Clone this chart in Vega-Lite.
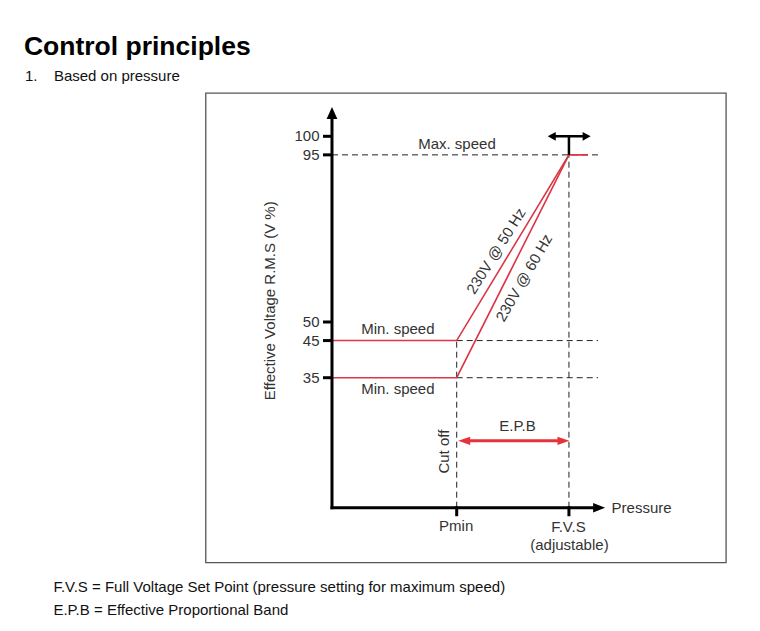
{
  "$schema": "https://vega.github.io/schema/vega-lite/v6.json",
  "width": 760,
  "height": 631,
  "autosize": {"type": "fit", "contains": "padding"},
  "padding": 0,
  "background": "white",
  "config": {"view": {"stroke": null}, "text": {"font": "Liberation Sans"}},
  "datasets": {
    "frame": [{"x": -50.6, "x2": 158.0, "y": -14.8, "y2": 111.6}],
    "guides": [
      {"x": 0, "y": 95, "x2": 106.7, "y2": 95},
      {"x": 50, "y": 45, "x2": 106.7, "y2": 45},
      {"x": 50, "y": 35, "x2": 106.7, "y2": 35},
      {"x": 50, "y": 0, "x2": 50, "y2": 45},
      {"x": 95, "y": 0, "x2": 95, "y2": 95}
    ],
    "curves": [
      {"series": "50 Hz", "step": 1, "x": 0, "y": 45},
      {"series": "50 Hz", "step": 2, "x": 50, "y": 45},
      {"series": "50 Hz", "step": 3, "x": 95, "y": 95},
      {"series": "50 Hz", "step": 4, "x": 102.6, "y": 95},
      {"series": "60 Hz", "step": 1, "x": 0, "y": 35},
      {"series": "60 Hz", "step": 2, "x": 50, "y": 35},
      {"series": "60 Hz", "step": 3, "x": 95, "y": 95}
    ],
    "axes": [
      {"x": 0, "y": -0.4, "x2": 0, "y2": 105.5},
      {"x": -0.6, "y": 0, "x2": 105, "y2": 0}
    ],
    "ticks": [
      {"x": -3.6, "y": 100, "x2": 0, "y2": 100},
      {"x": -3.6, "y": 95, "x2": 0, "y2": 95},
      {"x": -3.6, "y": 50, "x2": 0, "y2": 50},
      {"x": -3.6, "y": 45, "x2": 0, "y2": 45},
      {"x": -3.6, "y": 35, "x2": 0, "y2": 35},
      {"x": 50, "y": 0.4, "x2": 50, "y2": -2.3},
      {"x": 95, "y": 0.4, "x2": 95, "y2": -2.3}
    ],
    "fvsMarker": [
      {"x": 95, "y": 95, "x2": 95, "y2": 100},
      {"x": 88.0, "y": 100, "x2": 102.3, "y2": 100}
    ],
    "epb": [{"x": 53.0, "y": 18, "x2": 92.8, "y2": 18}],
    "upHeads": [{"x": 0, "y": 106.3}],
    "rightHeads": [{"x": 107.1, "y": 0}],
    "smallRight": [{"x": 102.1, "y": 100}],
    "smallLeft": [{"x": 88.1, "y": 100}],
    "redRight": [{"x": 92.8, "y": 18}],
    "redLeft": [{"x": 53.0, "y": 18}],
    "centerLabels": [
      {"x": 50.1, "y": 96.5, "label": "Max. speed"},
      {"x": 26.4, "y": 46.7, "label": "Min. speed"},
      {"x": 26.4, "y": 30.5, "label": "Min. speed"},
      {"x": 74.4, "y": 20.7, "label": "E.P.B"},
      {"x": 49.8, "y": -6.4, "label": "Pmin"},
      {"x": 94.8, "y": -6.6, "label": "F.V.S"},
      {"x": 95.2, "y": -11.4, "label": "(adjustable)"}
    ],
    "tickLabels": [
      {"x": -5, "y": 100, "label": "100"},
      {"x": -5, "y": 95, "label": "95"},
      {"x": -5, "y": 50, "label": "50"},
      {"x": -5, "y": 45, "label": "45"},
      {"x": -5, "y": 35, "label": "35"}
    ],
    "leftLabels": [
      {"x": 112.1, "y": -1.5, "label": "Pressure"}
    ],
    "pageText": [
      {"x": -123.1, "y": 114.9, "label": "1."},
      {"x": -111.5, "y": 114.9, "label": "Based on pressure"},
      {"x": -111.7, "y": -22.7, "label": "F.V.S = Full Voltage Set Point (pressure setting for maximum speed)"},
      {"x": -111.7, "y": -29.0, "label": "E.P.B = Effective Proportional Band"}
    ],
    "titleText": [{"x": -123.5, "y": 121.9, "label": "Control principles"}],
    "verticalLabels": [
      {"x": -22.9, "y": 55.7, "label": "Effective Voltage R.M.S (V %)"},
      {"x": 46.9, "y": 15.1, "label": "Cut off"}
    ],
    "label50": [{"x": 65.8, "y": 69.1, "label": "230V @ 50 Hz"}],
    "label60": [{"x": 77.0, "y": 61.9, "label": "230V @ 60 Hz"}]
  },
  "layer": [
    {
      "data": {"name": "frame"},
      "mark": {"type": "rect", "fill": null, "fillOpacity": 0, "stroke": "#555555", "strokeWidth": 1.3},
      "encoding": {
        "x": {"field": "x", "type": "quantitative", "scale": {"domain": [-133.1, 171.6], "nice": false, "zero": false}, "axis": null},
        "x2": {"field": "x2"},
        "y": {"field": "y", "type": "quantitative", "scale": {"domain": [-33.2, 136.7], "nice": false, "zero": false}, "axis": null},
        "y2": {"field": "y2"}
      }
    },
    {
      "data": {"name": "guides"},
      "mark": {"type": "rule", "color": "#222222", "strokeWidth": 1, "strokeDash": [6, 4]},
      "encoding": {
        "x": {"field": "x", "type": "quantitative", "scale": {"domain": [-133.1, 171.6], "nice": false, "zero": false}, "axis": null},
        "x2": {"field": "x2"},
        "y": {"field": "y", "type": "quantitative", "scale": {"domain": [-33.2, 136.7], "nice": false, "zero": false}, "axis": null},
        "y2": {"field": "y2"}
      }
    },
    {
      "data": {"name": "curves"},
      "mark": {"type": "line", "color": "#dc3545", "strokeWidth": 1.6},
      "encoding": {
        "x": {"field": "x", "type": "quantitative", "scale": {"domain": [-133.1, 171.6], "nice": false, "zero": false}, "axis": null},
        "y": {"field": "y", "type": "quantitative", "scale": {"domain": [-33.2, 136.7], "nice": false, "zero": false}, "axis": null},
        "detail": {"field": "series", "type": "nominal"},
        "order": {"field": "step", "type": "quantitative"}
      }
    },
    {
      "data": {"name": "axes"},
      "mark": {"type": "rule", "color": "#000000", "strokeWidth": 3},
      "encoding": {
        "x": {"field": "x", "type": "quantitative", "scale": {"domain": [-133.1, 171.6], "nice": false, "zero": false}, "axis": null},
        "x2": {"field": "x2"},
        "y": {"field": "y", "type": "quantitative", "scale": {"domain": [-33.2, 136.7], "nice": false, "zero": false}, "axis": null},
        "y2": {"field": "y2"}
      }
    },
    {
      "data": {"name": "ticks"},
      "mark": {"type": "rule", "color": "#000000", "strokeWidth": 3},
      "encoding": {
        "x": {"field": "x", "type": "quantitative", "scale": {"domain": [-133.1, 171.6], "nice": false, "zero": false}, "axis": null},
        "x2": {"field": "x2"},
        "y": {"field": "y", "type": "quantitative", "scale": {"domain": [-33.2, 136.7], "nice": false, "zero": false}, "axis": null},
        "y2": {"field": "y2"}
      }
    },
    {
      "data": {"name": "fvsMarker"},
      "mark": {"type": "rule", "color": "#000000", "strokeWidth": 2.5},
      "encoding": {
        "x": {"field": "x", "type": "quantitative", "scale": {"domain": [-133.1, 171.6], "nice": false, "zero": false}, "axis": null},
        "x2": {"field": "x2"},
        "y": {"field": "y", "type": "quantitative", "scale": {"domain": [-33.2, 136.7], "nice": false, "zero": false}, "axis": null},
        "y2": {"field": "y2"}
      }
    },
    {
      "data": {"name": "epb"},
      "mark": {"type": "rule", "color": "#e5323b", "strokeWidth": 3},
      "encoding": {
        "x": {"field": "x", "type": "quantitative", "scale": {"domain": [-133.1, 171.6], "nice": false, "zero": false}, "axis": null},
        "x2": {"field": "x2"},
        "y": {"field": "y", "type": "quantitative", "scale": {"domain": [-33.2, 136.7], "nice": false, "zero": false}, "axis": null},
        "y2": {"field": "y2"}
      }
    },
    {
      "data": {"name": "upHeads"},
      "mark": {"type": "point", "shape": "M0,-1L-0.9,1L0.9,1Z", "filled": true, "color": "#000000", "opacity": 1, "size": 144, "strokeWidth": 0},
      "encoding": {
        "x": {"field": "x", "type": "quantitative", "scale": {"domain": [-133.1, 171.6], "nice": false, "zero": false}, "axis": null},
        "y": {"field": "y", "type": "quantitative", "scale": {"domain": [-33.2, 136.7], "nice": false, "zero": false}, "axis": null}
      }
    },
    {
      "data": {"name": "rightHeads"},
      "mark": {"type": "point", "shape": "M1,0L-1,-0.8L-1,0.8Z", "filled": true, "color": "#000000", "opacity": 1, "size": 144, "strokeWidth": 0},
      "encoding": {
        "x": {"field": "x", "type": "quantitative", "scale": {"domain": [-133.1, 171.6], "nice": false, "zero": false}, "axis": null},
        "y": {"field": "y", "type": "quantitative", "scale": {"domain": [-33.2, 136.7], "nice": false, "zero": false}, "axis": null}
      }
    },
    {
      "data": {"name": "smallRight"},
      "mark": {"type": "point", "shape": "M1,0L-1,-1.1L-1,1.1Z", "filled": true, "color": "#000000", "opacity": 1, "size": 64, "strokeWidth": 0},
      "encoding": {
        "x": {"field": "x", "type": "quantitative", "scale": {"domain": [-133.1, 171.6], "nice": false, "zero": false}, "axis": null},
        "y": {"field": "y", "type": "quantitative", "scale": {"domain": [-33.2, 136.7], "nice": false, "zero": false}, "axis": null}
      }
    },
    {
      "data": {"name": "smallLeft"},
      "mark": {"type": "point", "shape": "M-1,0L1,-1.1L1,1.1Z", "filled": true, "color": "#000000", "opacity": 1, "size": 64, "strokeWidth": 0},
      "encoding": {
        "x": {"field": "x", "type": "quantitative", "scale": {"domain": [-133.1, 171.6], "nice": false, "zero": false}, "axis": null},
        "y": {"field": "y", "type": "quantitative", "scale": {"domain": [-33.2, 136.7], "nice": false, "zero": false}, "axis": null}
      }
    },
    {
      "data": {"name": "redRight"},
      "mark": {"type": "point", "shape": "M1,0L-1,-0.7L-1,0.7Z", "filled": true, "color": "#e5323b", "opacity": 1, "size": 144, "strokeWidth": 0},
      "encoding": {
        "x": {"field": "x", "type": "quantitative", "scale": {"domain": [-133.1, 171.6], "nice": false, "zero": false}, "axis": null},
        "y": {"field": "y", "type": "quantitative", "scale": {"domain": [-33.2, 136.7], "nice": false, "zero": false}, "axis": null}
      }
    },
    {
      "data": {"name": "redLeft"},
      "mark": {"type": "point", "shape": "M-1,0L1,-0.7L1,0.7Z", "filled": true, "color": "#e5323b", "opacity": 1, "size": 144, "strokeWidth": 0},
      "encoding": {
        "x": {"field": "x", "type": "quantitative", "scale": {"domain": [-133.1, 171.6], "nice": false, "zero": false}, "axis": null},
        "y": {"field": "y", "type": "quantitative", "scale": {"domain": [-33.2, 136.7], "nice": false, "zero": false}, "axis": null}
      }
    },
    {
      "data": {"name": "centerLabels"},
      "mark": {"type": "text", "align": "center", "baseline": "alphabetic", "fontSize": 15, "color": "#333333"},
      "encoding": {
        "x": {"field": "x", "type": "quantitative", "scale": {"domain": [-133.1, 171.6], "nice": false, "zero": false}, "axis": null},
        "y": {"field": "y", "type": "quantitative", "scale": {"domain": [-33.2, 136.7], "nice": false, "zero": false}, "axis": null},
        "text": {"field": "label"}
      }
    },
    {
      "data": {"name": "tickLabels"},
      "mark": {"type": "text", "align": "right", "baseline": "middle", "fontSize": 15, "color": "#333333"},
      "encoding": {
        "x": {"field": "x", "type": "quantitative", "scale": {"domain": [-133.1, 171.6], "nice": false, "zero": false}, "axis": null},
        "y": {"field": "y", "type": "quantitative", "scale": {"domain": [-33.2, 136.7], "nice": false, "zero": false}, "axis": null},
        "text": {"field": "label"}
      }
    },
    {
      "data": {"name": "leftLabels"},
      "mark": {"type": "text", "align": "left", "baseline": "alphabetic", "fontSize": 15, "color": "#333333"},
      "encoding": {
        "x": {"field": "x", "type": "quantitative", "scale": {"domain": [-133.1, 171.6], "nice": false, "zero": false}, "axis": null},
        "y": {"field": "y", "type": "quantitative", "scale": {"domain": [-33.2, 136.7], "nice": false, "zero": false}, "axis": null},
        "text": {"field": "label"}
      }
    },
    {
      "data": {"name": "pageText"},
      "mark": {"type": "text", "align": "left", "baseline": "alphabetic", "fontSize": 15, "color": "#111111"},
      "encoding": {
        "x": {"field": "x", "type": "quantitative", "scale": {"domain": [-133.1, 171.6], "nice": false, "zero": false}, "axis": null},
        "y": {"field": "y", "type": "quantitative", "scale": {"domain": [-33.2, 136.7], "nice": false, "zero": false}, "axis": null},
        "text": {"field": "label"}
      }
    },
    {
      "data": {"name": "titleText"},
      "mark": {"type": "text", "align": "left", "baseline": "alphabetic", "fontSize": 26.5, "fontWeight": "bold", "color": "#000000"},
      "encoding": {
        "x": {"field": "x", "type": "quantitative", "scale": {"domain": [-133.1, 171.6], "nice": false, "zero": false}, "axis": null},
        "y": {"field": "y", "type": "quantitative", "scale": {"domain": [-33.2, 136.7], "nice": false, "zero": false}, "axis": null},
        "text": {"field": "label"}
      }
    },
    {
      "data": {"name": "verticalLabels"},
      "mark": {"type": "text", "align": "center", "baseline": "alphabetic", "fontSize": 15, "angle": 270, "color": "#333333"},
      "encoding": {
        "x": {"field": "x", "type": "quantitative", "scale": {"domain": [-133.1, 171.6], "nice": false, "zero": false}, "axis": null},
        "y": {"field": "y", "type": "quantitative", "scale": {"domain": [-33.2, 136.7], "nice": false, "zero": false}, "axis": null},
        "text": {"field": "label"}
      }
    },
    {
      "data": {"name": "label50"},
      "mark": {"type": "text", "align": "center", "baseline": "middle", "fontSize": 15, "angle": 302, "color": "#333333"},
      "encoding": {
        "x": {"field": "x", "type": "quantitative", "scale": {"domain": [-133.1, 171.6], "nice": false, "zero": false}, "axis": null},
        "y": {"field": "y", "type": "quantitative", "scale": {"domain": [-33.2, 136.7], "nice": false, "zero": false}, "axis": null},
        "text": {"field": "label"}
      }
    },
    {
      "data": {"name": "label60"},
      "mark": {"type": "text", "align": "center", "baseline": "middle", "fontSize": 15, "angle": 300, "color": "#333333"},
      "encoding": {
        "x": {"field": "x", "type": "quantitative", "scale": {"domain": [-133.1, 171.6], "nice": false, "zero": false}, "axis": null},
        "y": {"field": "y", "type": "quantitative", "scale": {"domain": [-33.2, 136.7], "nice": false, "zero": false}, "axis": null},
        "text": {"field": "label"}
      }
    }
  ]
}
